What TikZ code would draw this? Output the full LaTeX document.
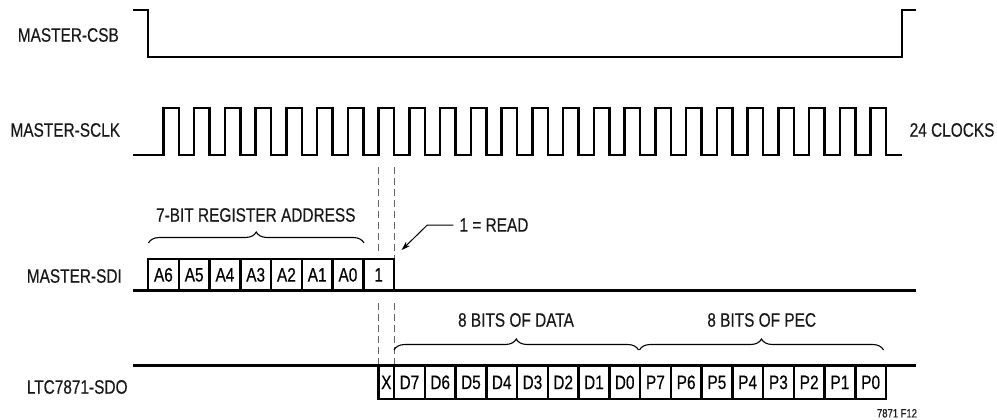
\documentclass[tikz,border=0pt]{standalone}
\usepackage{fontspec}
\setmainfont{Liberation Sans}[FakeStretch=0.79, FakeBold=0.4]
\usetikzlibrary{decorations.pathreplacing,arrows.meta}
\begin{document}
\begin{tikzpicture}[x=1pt,y=-1pt,
  sig/.style={line width=2.6pt, line join=miter, line cap=butt},
  lbl/.style={inner sep=0pt, font=\fontsize{19.5}{21}\selectfont, text=black!90},
  small/.style={inner sep=0pt, font=\fontsize{12}{13}\selectfont, text=black!90},
  bitbox/.style={draw, line width=2.5pt, inner sep=0pt, outer sep=0pt,
    minimum width=30.75pt, font=\fontsize{19.5}{21}\selectfont},
  guide/.style={draw=black!60, line width=0.9pt, dash pattern=on 7pt off 4pt},
  bracestyle/.style={draw, line width=1.1pt, decorate,
    decoration={brace, amplitude=11pt}},
  pointer/.style={draw, line width=1pt, -{Stealth[length=9pt,width=6pt]}}]
\useasboundingbox (0,0) rectangle (997,420);

% signal names
\node[lbl] (csb)  at (68.3,35)  {MASTER-CSB};
\node[lbl] (sclk) at (65.3,130) {MASTER-SCLK};
\node[lbl] (sdi)  at (74.3,276) {MASTER-SDI};
\node[lbl] (sdo)  at (77.2,387) {LTC7871-SDO};

% chip select
\draw[sig] (133,10) -- (148.05,10) -- (148.05,57) -- (902,57) -- (902,10) -- (916,10);

% clock
\draw[sig] (133,155)
  \foreach \k in {0,...,23} { -- ({163.4+\k*30.75},155) -- ++(0,-47) -- ++(15.4,0) -- ++(0,47) }
  -- (902,155);
\node[lbl, anchor=west] (clocks) at (909.5,130) {24 CLOCKS};

% guide lines
\coordinate (g1a) at (378.65,167);
\coordinate (g1b) at (378.65,252);
\coordinate (g1c) at (378.65,303);
\coordinate (g1d) at (378.65,365.7);
\coordinate (g2a) at (394.05,167);
\coordinate (g2b) at (394.05,259);
\coordinate (g2c) at (394.05,303);
\coordinate (g2d) at (394.05,365.7);
\path[guide] (g1a) -- (g1b) (g1c) -- (g1d) (g2a) -- (g2b) (g2c) -- (g2d);

% MASTER-SDI
\draw[sig] (133,290.7) -- (916,290.7);
\foreach \t [count=\i] in {A6,A5,A4,A3,A2,A1,A0,1}
  \node[bitbox, minimum height=31.7pt] (sdibit\i) at ({148.05+(\i-0.5)*30.75},274.85) {\t};

% LTC7871-SDO
\draw[sig] (133,365.7) -- (916,365.7);
\node[bitbox, minimum height=33.3pt, minimum width=15.4pt] (xbit) at (386.35,382.35) {X};
\foreach \t [count=\i] in {D7,D6,D5,D4,D3,D2,D1,D0,P7,P6,P5,P4,P3,P2,P1,P0}
  \node[bitbox, minimum height=33.3pt] (sdobit\i) at ({394.05+(\i-0.5)*30.75},382.35) {\t};

% braces
\draw[bracestyle] (148.5,243) -- (364,243);
\node[lbl] (addr) at (255.8,215) {7-BIT REGISTER ADDRESS};
\draw[bracestyle] (394,350) -- (638.5,350);
\node[lbl] (data) at (516,320) {8 BITS OF DATA};
\draw[bracestyle] (639.5,350) -- (883.5,350);
\node[lbl] (pec) at (761.7,320) {8 BITS OF PEC};

% read annotation
\node[lbl, anchor=west] (read) at (459.3,225) {1 = READ};
\coordinate (readtip) at (401.7,250);
\draw[pointer] ([xshift=-6pt]read.west) -- ++(-26,0) -- (readtip);

\node[small] (fig) at (897,413.3) {7871 F12};
\end{tikzpicture}
\end{document}
